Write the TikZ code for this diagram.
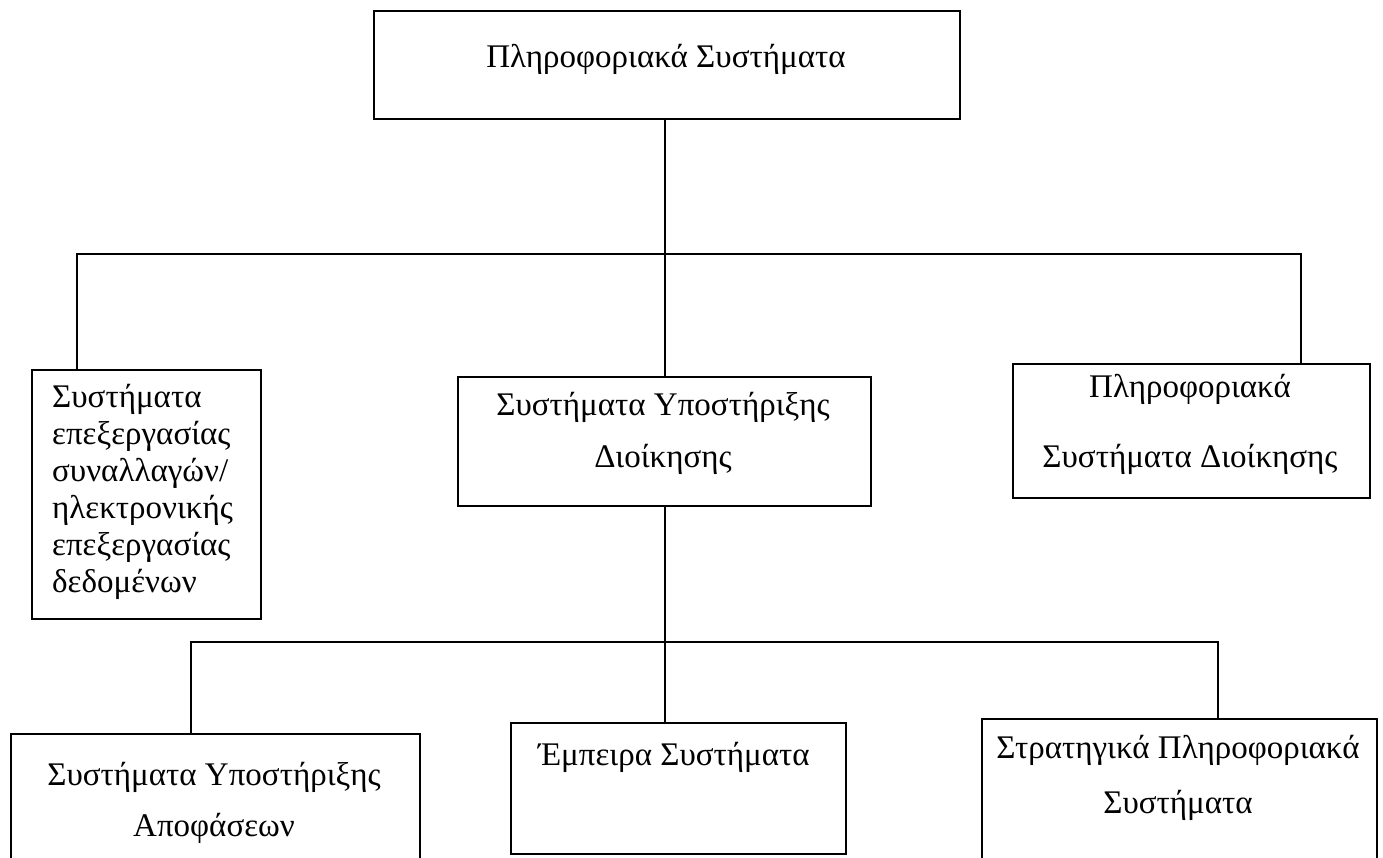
\documentclass[tikz,border=0pt]{standalone}
\usepackage{fontspec}
\setmainfont{Liberation Serif}
\usetikzlibrary{positioning}
\tikzstyle{sysbox} = [draw=black, line width=2.2pt, inner sep=0pt, anchor=north west]
\tikzstyle{boxtext} = [font=\fontsize{33}{37}\selectfont, inner sep=0pt, anchor=base]
\tikzstyle{link} = [line width=2pt]

\begin{document}
\begin{tikzpicture}[x=1pt,y=-1pt]
\useasboundingbox (0,0) rectangle (1383,857);
\clip (0,0) rectangle (1383,857);

\node[sysbox, minimum width=586pt, minimum height=108pt] (is) at (373,10) {};
\node[sysbox, minimum width=229pt, minimum height=249pt] (tps) at (31,369) {};
\node[sysbox, minimum width=413pt, minimum height=129pt] (mss) at (457,376) {};
\node[sysbox, minimum width=357pt, minimum height=134pt] (mis) at (1012,363) {};
\node[sysbox, minimum width=409pt, minimum height=160pt] (dss) at (10,733) {};
\node[sysbox, minimum width=335pt, minimum height=131pt] (es) at (510,722) {};
\node[sysbox, minimum width=395pt, minimum height=170pt] (sis) at (981,718) {};

\node[boxtext] (isT) at (666,67) {Πληροφοριακά Συστήματα};
\node[boxtext, align=left, anchor=base west] (tpsT) at (52,592) {Συστήματα\\ επεξεργασίας\\ συναλλαγών/\\ ηλεκτρονικής\\ επεξεργασίας\\ δεδομένων};
\node[boxtext, align=center] (mssT) at (663,467) {Συστήματα Υποστήριξης\\[15pt] Διοίκησης};
\node[boxtext, align=center] (misT) at (1190,467) {Πληροφοριακά\\[33pt] Συστήματα Διοίκησης};
\node[boxtext, align=center] (dssT) at (214,836) {Συστήματα Υποστήριξης\\[14pt] Αποφάσεων};
\node[boxtext] (esT) at (674,765) {Έμπειρα Συστήματα};
\node[boxtext, align=center] (sisT) at (1178,813) {Στρατηγικά Πληροφοριακά\\[18pt] Συστήματα};

\coordinate (bus1) at (0,254);
\coordinate (bus2) at (0,642);
\coordinate (tpsIn) at (77,369);
\coordinate (misIn) at (1301,363);
\coordinate (dssIn) at (191,733);
\coordinate (sisIn) at (1218,718);

\draw[link] (mss.north |- is.south) -- (mss.north);
\draw[link] (tpsIn) -- (tpsIn |- bus1) -- (misIn |- bus1) -- (misIn);
\draw[link] (mss.south) -- (es.north -| mss.south);
\draw[link] (dssIn) -- (dssIn |- bus2) -- (sisIn |- bus2) -- (sisIn);
\end{tikzpicture}
\end{document}
